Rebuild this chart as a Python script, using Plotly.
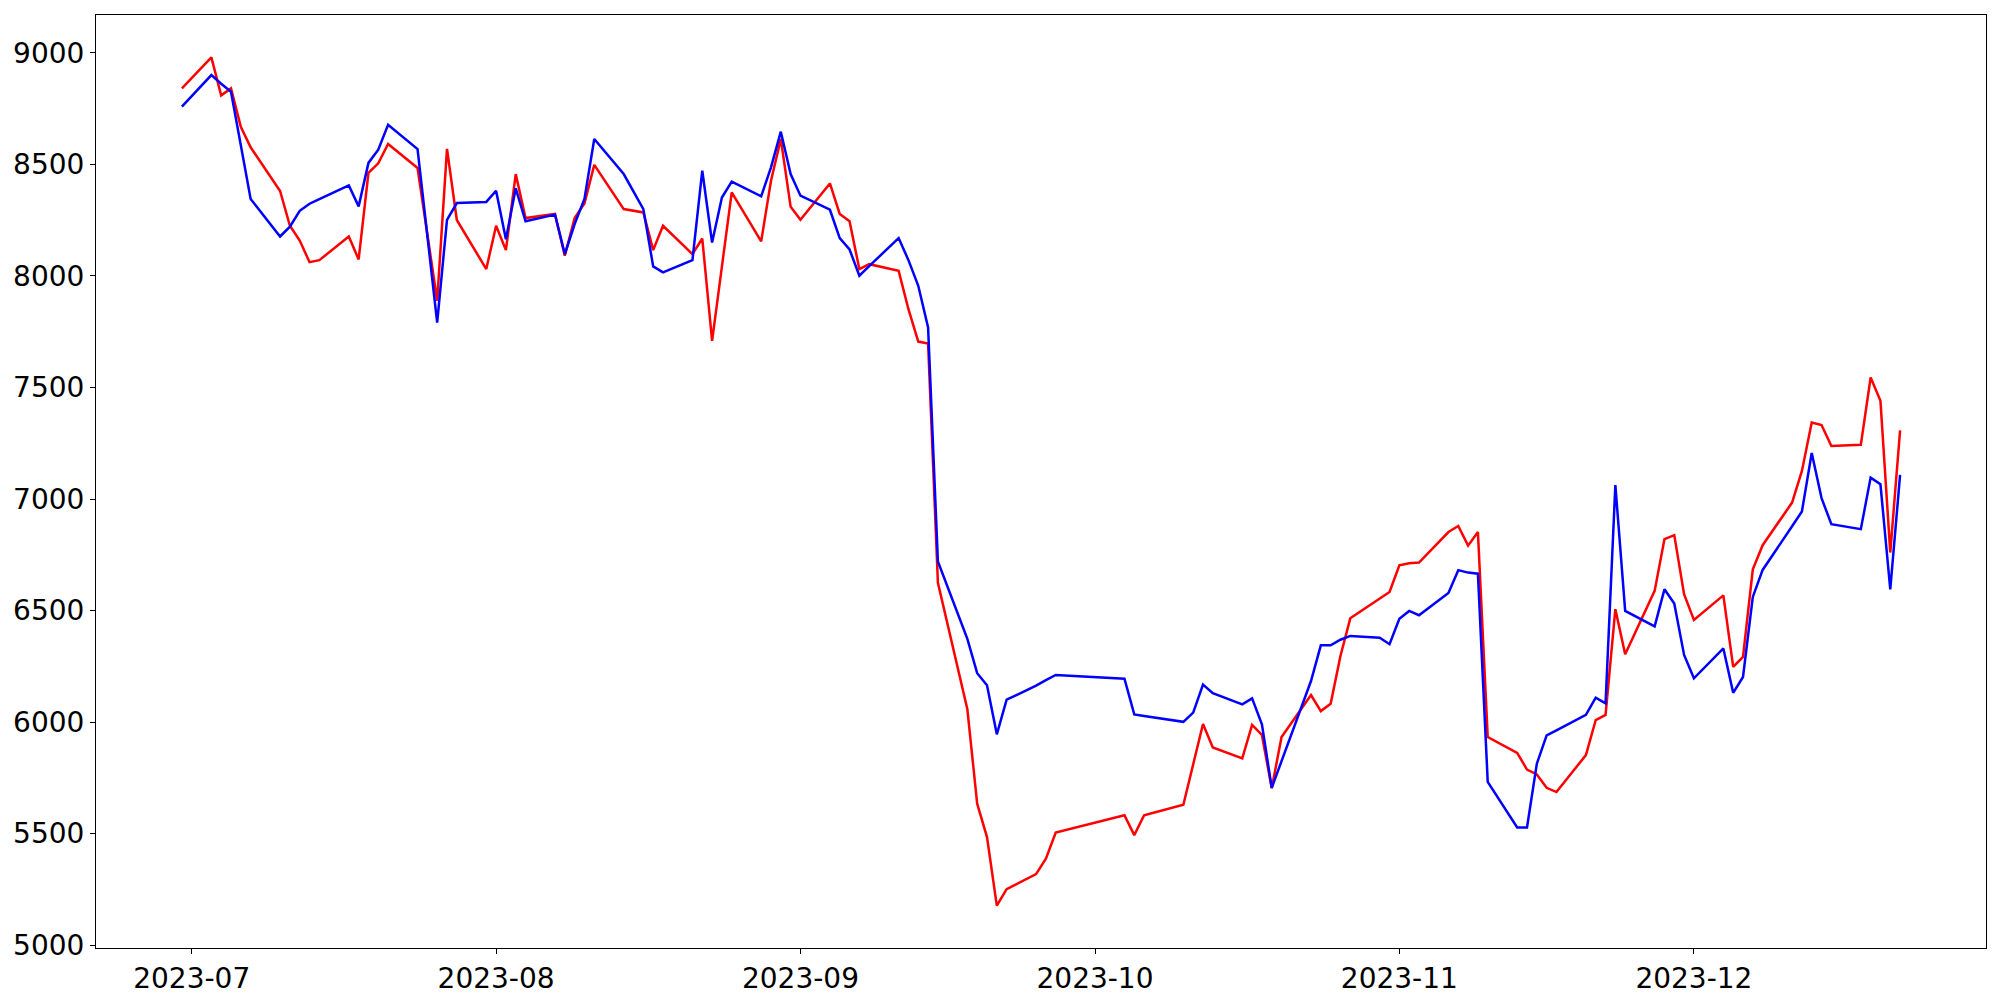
import plotly.graph_objects as go
import datetime as dt

dates = [
    "2023-06-30", "2023-07-03", "2023-07-04", "2023-07-05", "2023-07-06", "2023-07-07",
    "2023-07-10", "2023-07-11", "2023-07-12", "2023-07-13", "2023-07-14",
    "2023-07-17", "2023-07-18", "2023-07-19", "2023-07-20", "2023-07-21",
    "2023-07-24", "2023-07-26", "2023-07-27", "2023-07-28", "2023-07-31",
    "2023-08-01", "2023-08-02", "2023-08-03", "2023-08-04",
    "2023-08-07", "2023-08-08", "2023-08-09", "2023-08-10", "2023-08-11",
    "2023-08-14", "2023-08-16", "2023-08-17", "2023-08-18",
    "2023-08-21", "2023-08-22", "2023-08-23", "2023-08-24", "2023-08-25",
    "2023-08-28", "2023-08-29", "2023-08-30", "2023-08-31", "2023-09-01",
    "2023-09-04", "2023-09-05", "2023-09-06", "2023-09-07", "2023-09-08",
    "2023-09-11", "2023-09-12", "2023-09-13", "2023-09-14", "2023-09-15",
    "2023-09-18", "2023-09-19", "2023-09-20", "2023-09-21", "2023-09-22",
    "2023-09-25", "2023-09-26", "2023-09-27",
    "2023-10-04", "2023-10-05", "2023-10-06",
    "2023-10-10", "2023-10-11", "2023-10-12", "2023-10-13",
    "2023-10-16", "2023-10-17", "2023-10-18", "2023-10-19", "2023-10-20",
    "2023-10-23", "2023-10-24", "2023-10-25", "2023-10-26", "2023-10-27",
    "2023-10-30", "2023-10-31", "2023-11-01", "2023-11-02", "2023-11-03",
    "2023-11-06", "2023-11-07", "2023-11-08", "2023-11-09", "2023-11-10",
    "2023-11-13", "2023-11-14", "2023-11-15", "2023-11-16", "2023-11-17",
    "2023-11-20", "2023-11-21", "2023-11-22", "2023-11-23", "2023-11-24",
    "2023-11-27", "2023-11-28", "2023-11-29", "2023-11-30", "2023-12-01",
    "2023-12-04", "2023-12-05", "2023-12-06", "2023-12-07", "2023-12-08",
    "2023-12-11", "2023-12-12", "2023-12-13", "2023-12-14", "2023-12-15",
    "2023-12-18", "2023-12-19", "2023-12-20", "2023-12-21", "2023-12-22",
]

red_values = [
    8841, 8980, 8810, 8841, 8669, 8577,
    8381, 8225, 8159, 8062, 8071,
    8177, 8074, 8462, 8505, 8592,
    8484, 7889, 8570, 8251, 8031,
    8225, 8116, 8457, 8260,
    8278, 8091, 8260, 8325, 8498,
    8300, 8285, 8116, 8225,
    8098, 8168, 7709, 8050, 8375,
    8155, 8427, 8614, 8310, 8252,
    8415, 8278, 8245, 8031, 8053,
    8023, 7851, 7706, 7697, 6624,
    6057, 5634, 5484, 5177, 5251,
    5318, 5387, 5504,
    5582, 5493, 5582,
    5629, 5810, 5991, 5886,
    5837, 5987, 5942, 5703, 5933,
    6121, 6049, 6082, 6296, 6465,
    6555, 6583, 6703, 6712, 6715,
    6852, 6879, 6791, 6852, 5933,
    5862, 5787, 5765, 5705, 5686,
    5852, 6009, 6032, 6506, 6304,
    6588, 6820, 6838, 6573, 6458,
    6568, 6247, 6292, 6685, 6793,
    6984, 7126, 7343, 7332, 7238,
    7243, 7545, 7440, 6760, 7308,
]

blue_values = [
    8759, 8901, 8862, 8826, 8586, 8345,
    8177, 8221, 8292, 8324, 8345,
    8406, 8312, 8507, 8566, 8678,
    8569, 7791, 8252, 8327, 8332,
    8382, 8165, 8393, 8245,
    8275, 8098, 8233, 8345, 8614,
    8457, 8300, 8043, 8016,
    8071, 8472, 8150, 8352, 8423,
    8357, 8487, 8647, 8457, 8360,
    8297, 8170, 8119, 8001, 8044,
    8170, 8071, 7956, 7769, 6720,
    6373, 6219, 6165, 5945, 6100,
    6163, 6188, 6211,
    6194, 6034, 6027,
    6001, 6042, 6168, 6129,
    6079, 6106, 5990, 5705, 5824,
    6184, 6344, 6344, 6369, 6386,
    6378, 6349, 6463, 6498, 6479,
    6579, 6681, 6670, 6665, 5732,
    5527, 5527, 5813, 5940, 5963,
    6032, 6109, 6084, 7062, 6498,
    6429, 6595, 6531, 6301, 6196,
    6330, 6131, 6202, 6561, 6682,
    6878, 6944, 7206, 7004, 6887,
    6865, 7096, 7066, 6595, 7108,
]

x_tick_vals = ["2023-07-01", "2023-08-01", "2023-09-01", "2023-10-01", "2023-11-01", "2023-12-01"]
x_tick_text = ["2023-07", "2023-08", "2023-09", "2023-10", "2023-11", "2023-12"]
y_tick_vals = [5000, 5500, 6000, 6500, 7000, 7500, 8000, 8500, 9000]

fig = go.Figure()
fig.add_trace(go.Scatter(x=dates, y=red_values, mode="lines",
                         line=dict(color="#ff0000", width=2.5), name="red"))
fig.add_trace(go.Scatter(x=dates, y=blue_values, mode="lines",
                         line=dict(color="#0000ff", width=2.5), name="blue"))

# axis ranges with 5% padding (matplotlib-style margins)
d0 = dt.datetime.fromisoformat(dates[0])
d1 = dt.datetime.fromisoformat(dates[-1])
pad = (d1 - d0) * 0.05
x_range = [(d0 - pad).isoformat(), (d1 + pad).isoformat()]
all_vals = red_values + blue_values
ymin, ymax = min(all_vals), max(all_vals)
ypad = (ymax - ymin) * 0.05
y_range = [ymin - ypad, ymax + ypad]

axis_common = dict(
    showline=True, linecolor="black", linewidth=1.1, mirror=True,
    ticks="outside", ticklen=5, tickwidth=1.1, tickcolor="black",
    showgrid=False, zeroline=False, automargin=False,
    tickfont=dict(family="DejaVu Sans", size=28, color="black"),
)

fig.update_layout(
    width=2000, height=1000,
    margin=dict(l=96, r=14, t=15, b=52),
    plot_bgcolor="white", paper_bgcolor="white",
    showlegend=False,
    font=dict(family="DejaVu Sans", size=28, color="black"),
    xaxis=dict(type="date", range=x_range, tickvals=x_tick_vals, ticktext=x_tick_text, **axis_common),
    yaxis=dict(range=y_range, tickvals=y_tick_vals, **axis_common),
)

fig.write_html("out.html",
               config={"displayModeBar": False},
               post_script="document.body.style.margin='0';document.body.style.overflow='hidden';")
